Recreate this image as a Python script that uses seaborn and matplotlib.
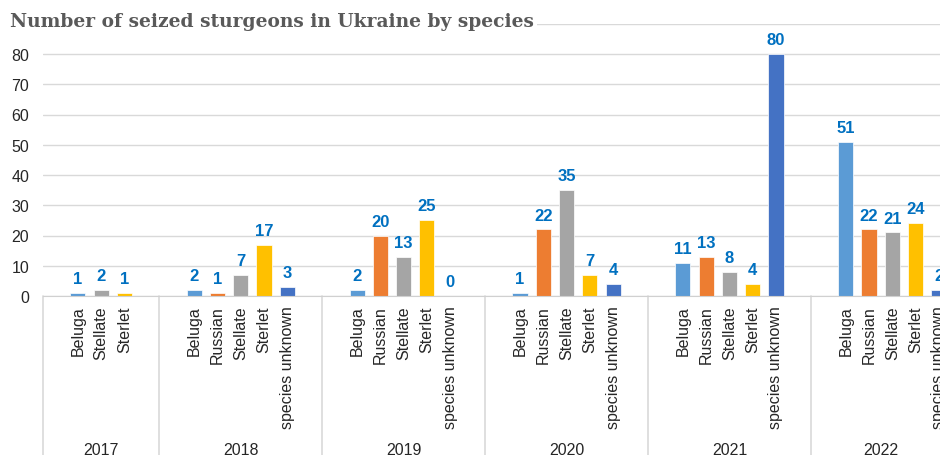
import numpy as np
import matplotlib.pyplot as plt
import seaborn as sns
import pandas as pd

sns.set_style("white")
plt.rcParams['font.family'] = ['Liberation Sans', 'DejaVu Sans']

# data
years = ["2017", "2018", "2019", "2020", "2021", "2022"]
species = ["Beluga", "Russian", "Stellate", "Sterlet", "species unknown"]
species_2017 = ["Beluga", "Stellate", "Sterlet"]
counts_2017 = [1, 2, 1]
counts_2018 = [2, 1, 7, 17, 3]
counts_2019 = [2, 20, 13, 25, 0]
counts_2020 = [1, 22, 35, 7, 4]
counts_2021 = [11, 13, 8, 4, 80]
counts_2022 = [51, 22, 21, 24, 2]

colors = {"Beluga": "#5B9BD5", "Russian": "#ED7D31", "Stellate": "#A5A5A5",
          "Sterlet": "#FFC000", "species unknown": "#4472C4"}

rows = []
per_year = [(species_2017, counts_2017), (species, counts_2018), (species, counts_2019),
            (species, counts_2020), (species, counts_2021), (species, counts_2022)]
order = []
ticklabels = []
group_sizes = []
for yr, (sp, vals) in zip(years, per_year):
    # excel leaves one empty slot at each side of a year group
    keys = [yr + " _a"] + [yr + " " + s for s in sp] + [yr + " _b"]
    order += keys
    ticklabels += [""] + sp + [""]
    group_sizes.append(len(keys))
    for s, v in zip(sp, vals):
        rows.append({"key": yr + " " + s, "species": s, "count": v})
df = pd.DataFrame(rows)

fig = plt.figure(figsize=(9.4, 4.56), dpi=100)
ax = fig.add_axes([43 / 940, 1 - 297 / 456, 1 - 43 / 940, (297 - 24.75) / 456])

sns.barplot(data=df, x="key", y="count", hue="species", order=order,
            hue_order=species, palette=colors, dodge=False, width=0.65,
            saturation=1, edgecolor="white", linewidth=0.5, legend=False, ax=ax)

for c in ax.containers:
    ax.bar_label(c, fmt="%d", padding=5, color="#0070C0", fontweight="bold",
                 fontsize=12, clip_on=False)

ax.set_xticks(range(len(order)))
ax.set_xticklabels(ticklabels, rotation=90)
ax.set_yticks(range(0, 91, 10))
ax.set_yticklabels([str(v) for v in range(0, 81, 10)] + [""])
ax.set_ylim(0, 90)

ax.yaxis.grid(True, color="#D9D9D9", linewidth=1)
ax.set_axisbelow(True)
for s in ["top", "right", "left"]:
    ax.spines[s].set_visible(False)
ax.spines["bottom"].set_color("#D0D0D0")

ax.tick_params(axis="x", length=0, pad=7, labelsize=11.5, labelcolor="#262626")
ax.tick_params(axis="y", length=0, pad=10, labelsize=11.5, labelcolor="#262626")
ax.set_xlabel("")
ax.set_ylabel("")

# year separators and year labels under the category labels
trans = ax.get_xaxis_transform()
edge = -0.5
for i, (yr, n) in enumerate(zip(years, group_sizes)):
    ax.plot([edge, edge], [0, -1], transform=trans, color="#D9D9D9",
            linewidth=1.2, clip_on=False)
    width = n - 1 if i == len(years) - 1 else n
    ax.text(edge + width / 2, -0.535, yr, transform=trans, ha="center", va="top",
            fontsize=11.5, color="#262626")
    edge += n
# the picture is cut right through the last bar of 2022
ax.set_xlim(-0.5, 38.05)

fig.text(10 / 940, 1 - 22 / 456, "Number of seized sturgeons in Ukraine by species",
         family="DejaVu Serif", fontweight="bold", fontsize=13.4, color="#595959",
         ha="left", va="center",
         bbox=dict(facecolor="white", edgecolor="none", pad=2))

plt.savefig("out.png", dpi=100)
